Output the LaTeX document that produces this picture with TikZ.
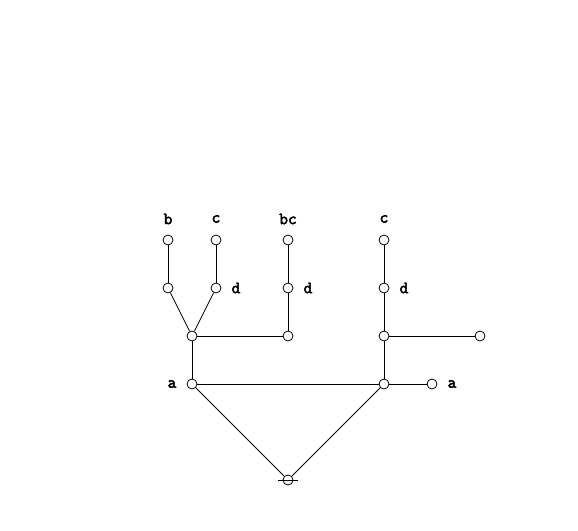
\documentclass[tikz,border=0pt]{standalone}
\usepackage{fontspec}
\newfontfamily\labelfont[FakeBold=3]{Latin Modern Mono}
\usepackage{tikz}

\begin{document}
\begin{tikzpicture}[x=1pt, y=-1pt, line width=0.8pt,
    vert/.style={circle, draw=black, fill=white, inner sep=0pt, minimum size=10pt},
    lab/.style={font=\labelfont\fontsize{17}{17}\selectfont, inner sep=0pt}]

   \useasboundingbox (0,0) rectangle (578,530);

   % vertices
   \node[vert] (b)  at (168,240) {};
   \node[vert] (c)  at (216,240) {};
   \node[vert] (bc) at (288,240) {};
   \node[vert] (cr) at (384,240) {};
   \node[vert] (d1) at (168,288) {};
   \node[vert] (d2) at (216,288) {};
   \node[vert] (d3) at (288,288) {};
   \node[vert] (d4) at (384,288) {};
   \node[vert] (u1) at (192,336) {};
   \node[vert] (u2) at (288,336) {};
   \node[vert] (u3) at (384,336) {};
   \node[vert] (u4) at (480,336) {};
   \node[vert] (a1) at (192,384) {};
   \node[vert] (a2) at (384,384) {};
   \node[vert] (a3) at (432,384) {};
   \node[vert] (root) at (288,480) {};

   % edges
   \draw (b) -- (d1);
   \draw (c) -- (d2);
   \draw (bc) -- (d3) -- (u2);
   \draw (cr) -- (d4) -- (u3) -- (a2);
   \draw (d1) -- (u1);
   \draw (d2) -- (u1);
   \draw (u1) -- (u2);
   \draw (u3) -- (u4);
   \draw (u1) -- (a1);
   \draw (a1) -- (a2);
   \draw (a2) -- (a3);
   \draw (a1) -- (root);
   \draw (a2) -- (root);
   \draw ([xshift=-10pt]root.center) -- ([xshift=10pt]root.center);

   % labels
   \node[lab] (lb)  at (168,219) {b};
   \node[lab] (lc)  at (216,219) {c};
   \node[lab] (lbc) at (288,219) {bc};
   \node[lab] (lcr) at (384,219) {c};
   \node[lab] (ld2) at (236,288) {d};
   \node[lab] (ld3) at (308,288) {d};
   \node[lab] (ld4) at (404,288) {d};
   \node[lab] (la1) at (172,384) {a};
   \node[lab] (la3) at (452,384) {a};

\end{tikzpicture}
\end{document}
